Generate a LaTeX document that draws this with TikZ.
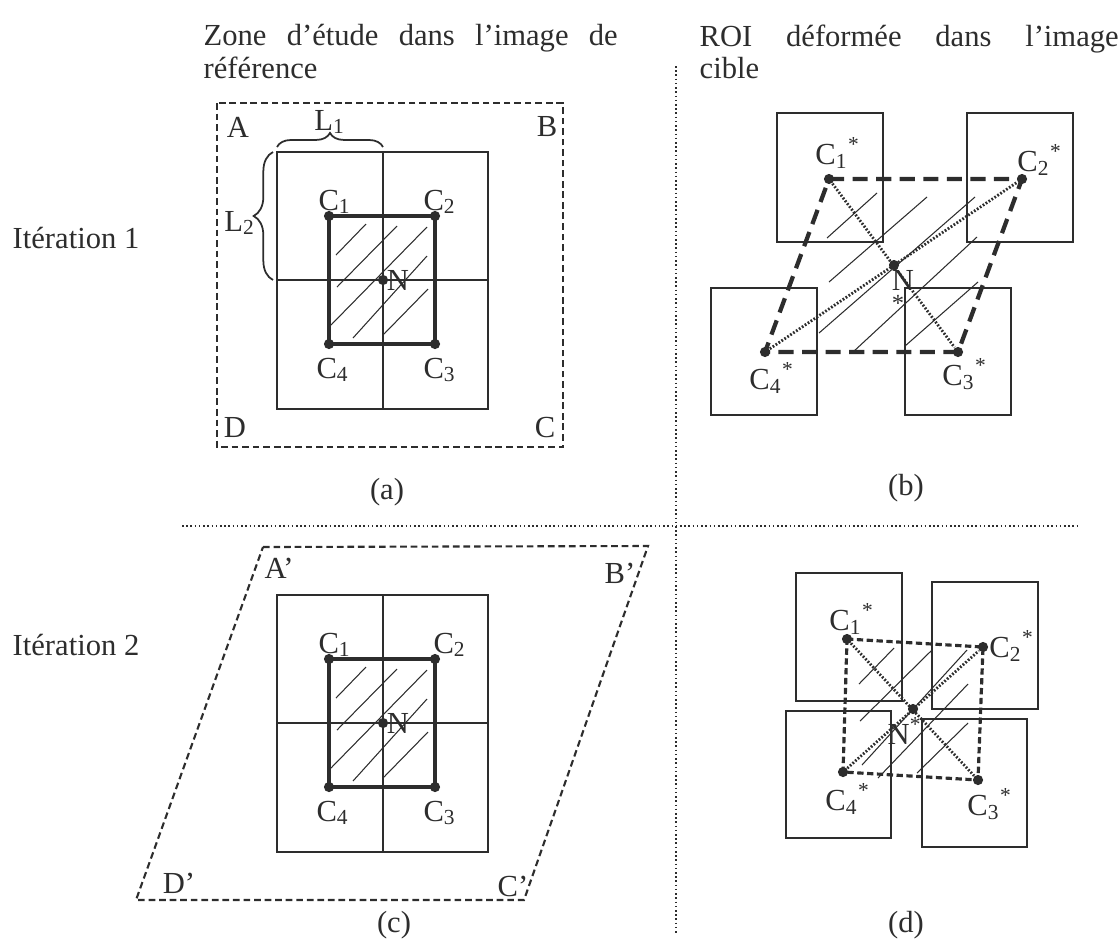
\documentclass[tikz,border=0pt]{standalone}
\usepackage{fontspec}
\setmainfont{Liberation Serif}
\usetikzlibrary{decorations.pathreplacing}
\definecolor{ink}{RGB}{45,45,45}
\tikzset{
  every picture/.style={font=\fontsize{8.7pt}{9.3pt}\selectfont,x=0.01cm,y=-0.01cm},
  lbl/.style={inner sep=0pt,text=ink},
  dot/.style={circle,fill=ink,inner sep=0pt,minimum size=2.9pt},
  cell/.style={draw=ink,line width=0.5pt},
  roi/.style={draw=ink,line width=0.95pt},
  hatch/.style={ink,line width=0.3pt},
  zone/.style={ink,line width=0.6pt,dash pattern=on 1.9pt off 1.1pt},
  warp/.style={ink,line width=1.2pt,dash pattern=on 4.3pt off 2.4pt},
  warpfine/.style={ink,line width=0.9pt,dash pattern=on 1.8pt off 1pt},
  diag/.style={ink,line width=0.8pt,dash pattern=on 0.5pt off 0.5pt},
  sep/.style={ink,line width=0.45pt,dash pattern=on 0.45pt off 0.75pt},
  lbrace/.style={decorate,decoration={brace,amplitude=#1},ink,line width=0.5pt},
}

\begin{document}
\begin{tikzpicture}
  \useasboundingbox (0,0) rectangle (1119,945);
  % titles
  \node[lbl,anchor=north west,text width=414*0.01cm,align=justify] (ttl-ref) at (203,24)
    {Zone d’étude dans l’image de\linebreak référence};
  \node[lbl,anchor=north west,text width=419*0.01cm,align=justify] (ttl-cib) at (699,24)
    {ROI déformée dans l’image\linebreak cible};
  \node[lbl] (it1) at (76,238) {Itération 1};
  \node[lbl] (it2) at (76,645) {Itération 2};
  % separators
  \draw[sep] (676,66) -- (676,935);
  \draw[sep] (182,526) -- (1079,526);

  % reference zone, both iterations
  \foreach \p/\dy/\cx in {a/0/440,c/443/450}{
    \begin{scope}[shift={(0,\dy)}]
      \draw[cell] (277,152) rectangle (488,409);
      \draw[cell] (383,152) -- (383,409) (277,280) -- (488,280);
      \draw[hatch] (336,255) -- (366,224) (337,287) -- (397,226) (331,325) -- (427,227)
        (353,338) -- (427,256) (384,334) -- (428,289);
      \node[dot] (\p-c1) at (329,216) {};
      \node[dot] (\p-c2) at (435,216) {};
      \node[dot] (\p-c3) at (435,344) {};
      \node[dot] (\p-c4) at (329,344) {};
      \node[dot] (\p-n) at (383,280) {};
      \draw[roi] (\p-c1.center) -- (\p-c2.center) -- (\p-c3.center) -- (\p-c4.center) -- cycle;
      \node[lbl] (\p-l1) at (335,202) {C\textsubscript{1}};
      \node[lbl] (\p-l2) at (\cx,202) {C\textsubscript{2}};
      \node[lbl] (\p-l3) at (440,370) {C\textsubscript{3}};
      \node[lbl] (\p-l4) at (333,370) {C\textsubscript{4}};
      \node[lbl] (\p-ln) at (398,280) {N};
    \end{scope}
  }
  % (a) study zone
  \draw[zone] (217,103) rectangle (563,447);
  \node[lbl] (za) at (238,127) {A};
  \node[lbl] (zb) at (547,127) {B};
  \node[lbl] (zc) at (545,428) {C};
  \node[lbl] (zd) at (235,428) {D};
  \draw[lbrace=4pt] (277,147) -- (383,147);
  \draw[lbrace=5.5pt] (273,280) -- (273,152);
  \node[lbl] (len1) at (330,122) {L\textsubscript{1}};
  \node[lbl] (len2) at (240,223) {L\textsubscript{2}};
  \node[lbl] (cap-a) at (387,492) {(a)};

  % (c) deformed study zone
  \draw[zone] (263,547) -- (648,546) -- (524,900) -- (136,900) -- cycle;
  \node[lbl] (za') at (279,568) {A’};
  \node[lbl] (zb') at (620,573) {B’};
  \node[lbl] (zc') at (513,886) {C’};
  \node[lbl] (zd') at (179,883) {D’};
  \node[lbl] (cap-c) at (394,925) {(c)};

  % (b) target, iteration 1
  \draw[cell] (777,113) rectangle (883,242);
  \draw[cell] (967,113) rectangle (1073,242);
  \draw[cell] (905,288) rectangle (1011,415);
  \draw[cell] (711,288) rectangle (817,415);
  \draw[hatch] (827,238) -- (877,193) (829,282) -- (927,197) (819,333) -- (975,197)
    (853,352) -- (977,237) (905,346) -- (978,282);
  \node[dot] (b-c1) at (829,179) {};
  \node[dot] (b-c2) at (1022,179) {};
  \node[dot] (b-c3) at (958,352) {};
  \node[dot] (b-c4) at (765,352) {};
  \node[dot] (b-n) at (894,265) {};
  \draw[warp] (b-c1.center) -- (b-c2.center) -- (b-c3.center) -- (b-c4.center) -- cycle;
  \draw[diag] (b-c1) -- (b-c3);
  \draw[diag] (b-c4) -- (b-c2);
  \node[lbl] (b-l1) at (838,153) {C\textsubscript{1}\textsuperscript{*}};
  \node[lbl] (b-l2) at (1040,160) {C\textsubscript{2}\textsuperscript{*}};
  \node[lbl] (b-l3) at (965,374) {C\textsubscript{3}\textsuperscript{*}};
  \node[lbl] (b-l4) at (772,378) {C\textsubscript{4}\textsuperscript{*}};
  \node[lbl] (b-ln) at (903,280) {N};
  \node[lbl,font=\scriptsize] (b-star) at (898,303) {*};
  \node[lbl] (cap-b) at (906,488) {(b)};

  % (d) target, iteration 2
  \draw[cell] (796,573) rectangle (902,701);
  \draw[cell] (932,582) rectangle (1038,709);
  \draw[cell] (922,719) rectangle (1027,847);
  \draw[cell] (786,711) rectangle (891,838);
  \draw[hatch] (859,684) -- (894,648) (860,721) -- (932,650) (862,765) -- (967,650)
    (878,778) -- (968,684) (917,773) -- (968,723);
  \node[dot] (d-c1) at (847,639) {};
  \node[dot] (d-c2) at (983,647) {};
  \node[dot] (d-c3) at (978,780) {};
  \node[dot] (d-c4) at (843,772) {};
  \node[dot] (d-n) at (913,709) {};
  \draw[warpfine] (d-c1.center) -- (d-c2.center) -- (d-c3.center) -- (d-c4.center) -- cycle;
  \draw[diag] (d-c1) -- (d-c3);
  \draw[diag] (d-c4) -- (d-c2);
  \node[lbl] (d-l1) at (852,619) {C\textsubscript{1}\textsuperscript{*}};
  \node[lbl] (d-l2) at (1012,646) {C\textsubscript{2}\textsuperscript{*}};
  \node[lbl] (d-l3) at (990,804) {C\textsubscript{3}\textsuperscript{*}};
  \node[lbl] (d-l4) at (848,799) {C\textsubscript{4}\textsuperscript{*}};
  \node[lbl] (d-ln) at (905,731) {N\textsuperscript{*}};
  \node[lbl] (cap-d) at (906,925) {(d)};
\end{tikzpicture}
\end{document}
